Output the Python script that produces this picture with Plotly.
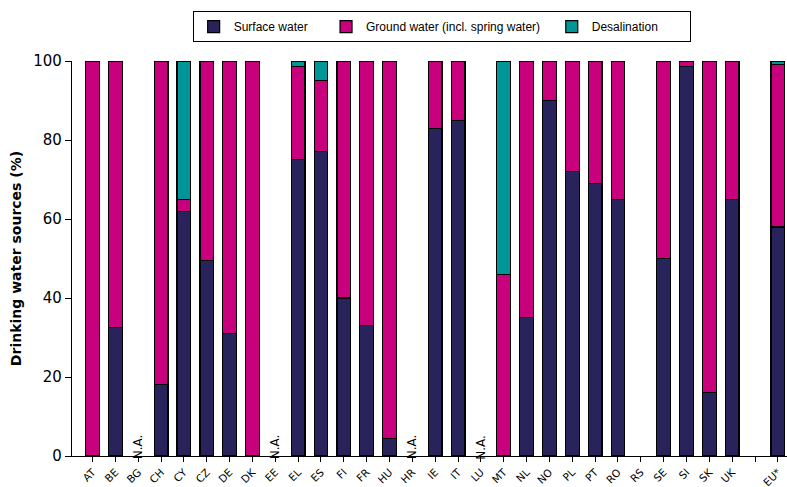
import plotly.graph_objects as go

categories = ["AT", "BE", "BG", "CH", "CY", "CZ", "DE", "DK", "EE", "EL", "ES", "FI", "FR", "HU", "HR",
              "IE", "IT", "LU", "MT", "NL", "NO", "PL", "PT", "RO", "RS", "SE", "SI", "SK", "UK", " ", "EU*"]
surface = [0, 32.5, None, 18.2, 62, 49.5, 31, 0, None, 75, 77, 40, 33, 4.5, None,
           83, 85, None, 0, 35, 90, 72, 69, 65, None, 50, 98.7, 16, 65, None, 58]
ground = [100, 67.5, None, 81.8, 3, 50.5, 69, 100, None, 23.7, 18, 60, 67, 95.5, None,
          17, 15, None, 46, 65, 10, 28, 31, 35, None, 50, 1.3, 84, 35, None, 41.2]
desal = [0, 0, None, 0, 35, 0, 0, 0, None, 1.3, 5, 0, 0, 0, None,
         0, 0, None, 54, 0, 0, 0, 0, 0, None, 0, 0, 0, 0, None, 0.8]
na_labels = ["BG", "EE", "HR", "LU"]
series_names = ["Surface water", "Ground water (incl. spring water)", "Desalination"]
name_pad = ["&nbsp;" * 4, "&nbsp;" * 2, "&nbsp;" * 8]

font_family = "DejaVu Sans, Verdana, sans-serif"
line = dict(color="black", width=1.2)
colors = ["#29235c", "#c8007d", "#009597"]

fig = go.Figure()
for vals, nm, pad, col in zip([surface, ground, desal], series_names, name_pad, colors):
    fig.add_trace(go.Bar(x=categories, y=vals, name=nm + pad,
                         marker=dict(color=col, line=line), width=0.6))

for c in na_labels:
    fig.add_annotation(x=c, y=2.3, text="N.A.", textangle=-90, showarrow=False,
                       font=dict(size=12, color="black", family=font_family),
                       xref="x", yref="y")

fig.update_layout(
    barmode="stack",
    width=787, height=487,
    margin=dict(l=72, r=0, t=61, b=31),
    plot_bgcolor="white", paper_bgcolor="white",
    font=dict(family=font_family, color="black"),
    legend=dict(orientation="h", xanchor="center", x=0.517, yref="container", y=0.977,
                yanchor="top", bordercolor="black", borderwidth=1, bgcolor="white",
                font=dict(size=12, family="Liberation Sans, Arial, sans-serif"),
                traceorder="normal", itemwidth=30),
    xaxis=dict(type="category", categoryorder="array", categoryarray=categories,
               range=[-0.9, 30.4], showline=True, linecolor="black", linewidth=1.2,
               ticks="outside", ticklen=5, tickcolor="black", tickangle=-45,
               tickfont=dict(size=10.5), automargin=False, showgrid=False),
    yaxis=dict(range=[0, 100], tickvals=[0, 20, 40, 60, 80, 100], showline=True,
               linecolor="black", linewidth=1.2, ticks="outside", ticklen=6,
               tickcolor="black", tickfont=dict(size=15), showgrid=False, zeroline=False,
               title=dict(text="<b>Drinking water sources (%)</b>", font=dict(size=14), standoff=8),
               automargin=False),
    bargap=0.4,
)

fig.write_html("out.html", config={"displayModeBar": False},
               post_script="document.body.style.margin='0';document.body.style.overflow='hidden';")
